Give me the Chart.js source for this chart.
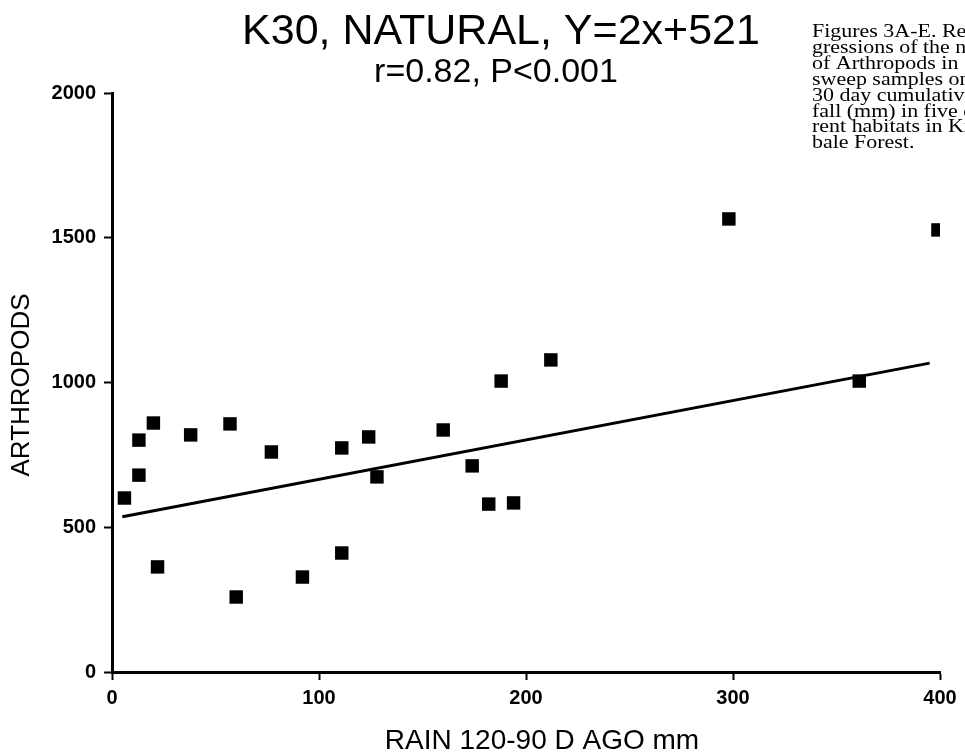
<!DOCTYPE html>
<html>
<head>
<meta charset="utf-8">
<script src="https://cdn.jsdelivr.net/npm/chart.js"></script>
<style>
  body { margin: 0; background: #fff; }
  canvas { display: block; }
</style>
</head>
<body>
<canvas id="chart" width="965" height="753"></canvas>
<script>
// K30 natural habitat: rain 120-90 days before sampling vs arthropod count
const rainMm = [6, 13, 13, 20, 22, 38, 57, 60, 77, 92, 111, 111, 124, 128, 160, 174, 182, 194, 188, 212, 298, 361, 399];
const arthropods = [601, 680, 801, 860, 363, 819, 857, 259, 760, 328, 774, 411, 812, 674, 836, 712, 580, 584, 1005, 1078, 1565, 1005, 1527];

// regression line as drawn in the figure (end points)
const fitX = [5, 395];
const fitY = [536, 1067];

const xTicks = [0, 100, 200, 300, 400];
const yTicks = [0, 500, 1000, 1500, 2000];

const titleText = 'K30, NATURAL, Y=2x+521';
const subtitleText = 'r=0.82, P<0.001';
const xTitle = 'RAIN 120-90 D AGO mm';
const yTitle = 'ARTHROPODS';
const captionLines = [
  'Figures 3A-E. Re-',
  'gressions of the number',
  'of Arthropods in',
  'sweep samples on',
  '30 day cumulative rain-',
  'fall (mm) in five diffe-',
  'rent habitats in Ki-',
  'bale Forest.'
];

const sans = '"Liberation Sans", Arial, Helvetica, sans-serif';

// titles, axis names and the side caption
const textPlugin = {
  id: 'texts',
  afterDraw(chart) {
    const ctx = chart.ctx;
    ctx.save();
    ctx.fillStyle = '#000';
    ctx.textBaseline = 'alphabetic';
    ctx.textAlign = 'center';
    ctx.font = '43px ' + sans;
    ctx.fillText(titleText, 501, 44);
    ctx.font = '34px ' + sans;
    ctx.fillText(subtitleText, 496, 82);
    ctx.font = '28px ' + sans;
    ctx.fillText(xTitle, 542, 749);

    // caption is a wide book serif in the scan; stretch Liberation Serif a bit
    ctx.save();
    ctx.textAlign = 'left';
    ctx.font = '18px "Liberation Serif", "Times New Roman", serif';
    ctx.translate(812, 0);
    ctx.scale(1.22, 1);
    captionLines.forEach((line, i) => {
      ctx.fillText(line, 0, 37 + i * 15.9);
    });
    ctx.restore();

    ctx.translate(29, 385);
    ctx.rotate(-Math.PI / 2);
    ctx.textAlign = 'center';
    ctx.font = '26px ' + sans;
    ctx.fillText(yTitle, 0, 0);
    ctx.restore();
  }
};

const axisGrid = { drawOnChartArea: false, drawTicks: true, tickLength: 8, tickWidth: 2, tickColor: '#000' };
const axisBorder = { display: true, color: '#000', width: 3 };
const tickFont = { family: sans, size: 20, weight: 'bold' };
const plainNumber = v => String(v);

new Chart('chart', {
  type: 'scatter',
  data: {
    datasets: [
      {
        label: 'samples',
        data: rainMm.map((x, i) => ({ x: x, y: arthropods[i] })),
        pointStyle: 'rect',
        pointRadius: 9.5,
        backgroundColor: '#000',
        borderColor: '#000',
        borderWidth: 0
      },
      {
        label: 'fit',
        type: 'line',
        data: fitX.map((x, i) => ({ x: x, y: fitY[i] })),
        borderColor: '#000',
        borderWidth: 3,
        pointRadius: 0,
        fill: false
      }
    ]
  },
  options: {
    responsive: false,
    animation: false,
    layout: { padding: { top: 93, right: 25, bottom: 0, left: 0 } },
    plugins: {
      legend: { display: false },
      tooltip: { enabled: false }
    },
    scales: {
      x: {
        type: 'linear',
        min: 0,
        max: 400,
        afterBuildTicks: s => { s.ticks = xTicks.map(v => ({ value: v })); },
        afterFit: s => { s.height = 81; },
        grid: axisGrid,
        border: axisBorder,
        ticks: { color: '#000', font: tickFont, padding: 6, maxRotation: 0, callback: plainNumber }
      },
      y: {
        type: 'linear',
        min: 0,
        max: 2000,
        afterBuildTicks: s => { s.ticks = yTicks.map(v => ({ value: v })); },
        afterFit: s => { s.width = 112; },
        grid: axisGrid,
        border: axisBorder,
        ticks: { color: '#000', font: tickFont, padding: 8, callback: plainNumber }
      }
    }
  },
  plugins: [textPlugin]
});
</script>
</body>
</html>
